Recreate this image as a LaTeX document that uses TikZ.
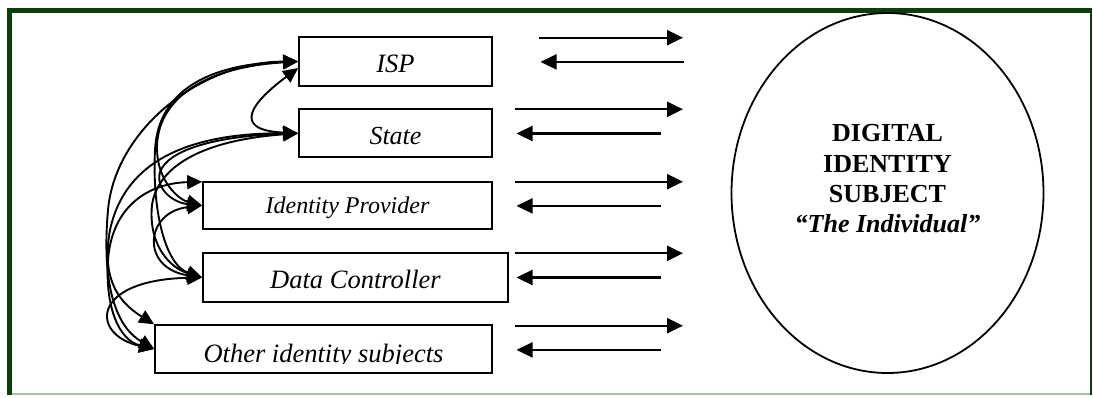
\documentclass[tikz,border=0pt]{standalone}
\usepackage{fontspec}
\setmainfont{Liberation Serif}
\usetikzlibrary{arrows.meta,shapes.geometric,calc}
\definecolor{framegreen}{RGB}{10,62,10}
\definecolor{framelight}{RGB}{170,190,170}
\tikzset{
  entity/.style={draw=black, line width=1.7pt, rectangle, inner sep=0pt},
  lbl/.style={anchor=base, inner sep=0pt},
  link/.style={line width=1.9pt, >={Triangle[length=15pt,width=14pt]}, <->},
  flow/.style={line width=2.3pt, >={Triangle[length=16pt,width=15pt]}, ->},
  subjtxt/.style={anchor=base, inner sep=0pt},
}
\begin{document}
\begin{tikzpicture}[x=1pt,y=-1pt]
\useasboundingbox (0,0) rectangle (1093,398);
% frame
\draw[framelight, line width=2pt] (7,394) -- (1092,394);
\draw[framegreen, line width=1.8pt] (1091,8) -- (1091,395);
\draw[framegreen, line width=5pt] (9.5,8) -- (9.5,395);
\draw[framegreen, line width=5pt] (7,10.5) -- (1092,10.5);

% boxes
\node[entity, minimum width=193pt, minimum height=48.5pt] (isp) at (395.5,61.5) {};
\node[entity, minimum width=193pt, minimum height=48pt] (state) at (395.5,133.3) {};
\node[entity, minimum width=289pt, minimum height=47.6pt] (ip) at (347.5,205.5) {};
\node[entity, minimum width=305pt, minimum height=48.4pt] (dc) at (355.5,277.5) {};
\node[entity, minimum width=337pt, minimum height=47.7pt] (other) at (323.5,349) {};

\node[lbl, font=\itshape\fontsize{26.5}{30}\selectfont] (ispl) at (395.5,73) {ISP};
\node[lbl, font=\itshape\fontsize{26}{30}\selectfont] (statel) at (395.5,145) {State};
\node[lbl, font=\itshape\fontsize{24}{28}\selectfont] (ipl) at (347.5,214) {Identity Provider};
\node[lbl, font=\itshape\fontsize{26.5}{30}\selectfont] (dcl) at (355.5,289) {Data Controller};
\begin{scope}
\clip (156,326) rectangle (491,363.5);
\node[lbl, font=\itshape\fontsize{26.5}{30}\selectfont] (otherl) at (323.5,362) {Other identity subjects};
\end{scope}

% subject
\node[draw, ellipse, line width=1.8pt, minimum width=312pt, minimum height=360pt, inner sep=0pt] (subject) at (887.5,193) {};
\node[subjtxt, font=\bfseries\fontsize{26}{30}\selectfont] (s1) at (887.5,142) {DIGITAL};
\node[subjtxt, font=\bfseries\fontsize{26}{30}\selectfont] (s2) at (887.5,172.3) {IDENTITY};
\node[subjtxt, font=\bfseries\fontsize{26}{30}\selectfont] (s3) at (887.5,202.6) {SUBJECT};
\node[subjtxt, font=\bfseries\itshape\fontsize{26}{30}\selectfont] (s4) at (887.5,233) {“The Individual”};

% straight flows
\foreach \i/\ty/\xs/\xe in {1/37.7/539/684, 2/109.3/515/661, 3/181.7/515/661, 4/253.3/515/661, 5/325.7/515/661} {
  \coordinate (fwd\i-s) at (\xs,\ty);
  \coordinate (fwd\i-e) at (683,\ty);
  \coordinate (bck\i-s) at (\xe,\ty+24.2);
  \coordinate (bck\i-e) at (\xs+1.5,\ty+24.2);
  \draw[flow] (fwd\i-s) -- (fwd\i-e);
  \draw[flow] (bck\i-s) -- (bck\i-e);
}

% curved links
\draw[link] ([yshift=-6.5pt]isp.west) .. controls (255,100) and (228,130) .. (state.west);
\draw[link] (ip.west) .. controls (145,212) and (140,268) .. (dc.west);
\draw[link] (dc.west) .. controls (90,280) and (90,335) .. (other.west);
\draw[link] (isp.west) .. controls (200,62) and (115,130) .. (108,210) .. controls (101,290) and (118,328) .. (other.west);
\draw[link] (state.west) .. controls (190,133) and (125,160) .. (110,230) .. controls (102,275) and (115,300) .. (other.north west);
\draw[link] ([yshift=-1pt]ip.north west) .. controls (150,183) and (112,205) .. (108,260) .. controls (105,305) and (118,340) .. (other.west);
\draw[link] (isp.west) .. controls (210,64) and (158,90) .. (155,150) .. controls (152,210) and (165,265) .. (dc.west);
\draw[link] (isp.west) .. controls (190,68) and (150,110) .. (158,160) .. controls (162,185) and (180,200) .. (ip.west);
\draw[link] (state.west) .. controls (215,136) and (168,150) .. (160,172) .. controls (155,190) and (175,203) .. (ip.west);
\draw[link] (state.west) .. controls (205,140) and (158,165) .. (152,205) .. controls (148,245) and (170,268) .. (dc.west);
\end{tikzpicture}
\end{document}
